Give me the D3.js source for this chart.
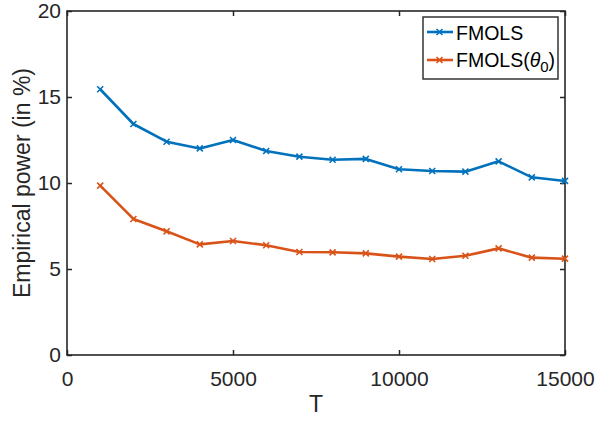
<!DOCTYPE html>
<html>
<head>
<meta charset="utf-8">
<script src="https://cdn.jsdelivr.net/npm/d3@7"></script>
<style>
  body { margin: 0; background: #fff; }
  svg { display: block; font-family: "Liberation Sans", Arial, Helvetica, sans-serif; }
</style>
</head>
<body>
<svg id="chart" width="597" height="422"></svg>
<script>
const T = [1000, 2000, 3000, 4000, 5000, 6000, 7000, 8000, 9000, 10000, 11000, 12000, 13000, 14000, 15000];
const fmols = [15.45, 13.43, 12.40, 12.01, 12.50, 11.86, 11.53, 11.35, 11.40, 10.80, 10.70, 10.66, 11.26, 10.33, 10.12];
const fmolsTheta = [9.85, 7.91, 7.19, 6.43, 6.63, 6.38, 5.99, 5.97, 5.91, 5.72, 5.58, 5.77, 6.20, 5.66, 5.60];
const xTicks = [0, 5000, 10000, 15000];
const yTicks = [0, 5, 10, 15, 20];

const svg = d3.select("#chart");
const width = 597, height = 422;
const margin = {top: 11, right: 32, bottom: 67, left: 67};
const axisColor = "#262626";

const x = d3.scaleLinear()
    .domain([0, 15000])
    .range([margin.left, width - margin.right]);

const y = d3.scaleLinear()
    .domain([0, 20])
    .range([height - margin.bottom, margin.top]);

const tickFont = "21px";

// bottom axis
const gx = svg.append("g")
    .attr("transform", `translate(0,${height - margin.bottom})`)
    .call(d3.axisBottom(x).tickValues(xTicks).tickFormat(d3.format("d"))
        .tickSizeInner(-5).tickSizeOuter(0).tickPadding(16));

// left axis
const gy = svg.append("g")
    .attr("transform", `translate(${margin.left},0)`)
    .call(d3.axisLeft(y).tickValues(yTicks).tickSizeInner(-5).tickSizeOuter(0).tickPadding(6));

// top and right ticks (box on)
const gt = svg.append("g")
    .attr("transform", `translate(0,${margin.top})`)
    .call(d3.axisTop(x).tickValues(xTicks).tickFormat("").tickSizeInner(-5).tickSizeOuter(0));
const gr = svg.append("g")
    .attr("transform", `translate(${width - margin.right},0)`)
    .call(d3.axisRight(y).tickValues(yTicks).tickFormat("").tickSizeInner(-5).tickSizeOuter(0));

[gx, gy, gt, gr].forEach(g => {
    g.select(".domain").remove();
    g.selectAll(".tick line").attr("stroke", axisColor).attr("stroke-width", 1.5);
    g.selectAll(".tick text").attr("fill", axisColor).style("font-size", tickFont)
        .style("font-family", "'Liberation Sans', Arial, Helvetica, sans-serif");
});

svg.append("rect")
    .attr("x", margin.left)
    .attr("y", margin.top)
    .attr("width", width - margin.left - margin.right)
    .attr("height", height - margin.top - margin.bottom)
    .attr("fill", "none")
    .attr("stroke", axisColor)
    .attr("stroke-width", 1.6);

// axis labels
svg.append("text")
    .attr("x", (margin.left + width - margin.right) / 2)
    .attr("y", 412)
    .attr("text-anchor", "middle")
    .attr("fill", axisColor)
    .style("font-size", "23px")
    .text("T");

svg.append("text")
    .attr("transform", `translate(30,${(margin.top + height - margin.bottom) / 2}) rotate(-90)`)
    .attr("text-anchor", "middle")
    .attr("fill", axisColor)
    .style("font-size", "23px")
    .text("Empirical power (in %)");

// series
const series = [
    {name: "FMOLS", values: fmols, color: "#0072BD"},
    {name: "FMOLSθ", values: fmolsTheta, color: "#D95319"}
];

const line = d3.line()
    .x(d => x(d[0]))
    .y(d => y(d[1]));

const xMark = "M-3,-3L3,3M-3,3L3,-3";

series.forEach(s => {
    const pts = T.map((t, i) => [t, s.values[i]]);
    svg.append("path")
        .datum(pts)
        .attr("fill", "none")
        .attr("stroke", s.color)
        .attr("stroke-width", 2.6)
        .attr("stroke-linejoin", "round")
        .attr("d", line);
    svg.append("g").selectAll("path")
        .data(pts)
        .join("path")
        .attr("transform", d => `translate(${x(d[0])},${y(d[1])})`)
        .attr("d", xMark)
        .attr("stroke", s.color)
        .attr("stroke-width", 1.6);
});

// legend
const legend = svg.append("g");
legend.append("rect")
    .attr("x", 423)
    .attr("y", 17)
    .attr("width", 135)
    .attr("height", 62)
    .attr("fill", "#fff")
    .attr("stroke", axisColor)
    .attr("stroke-width", 1.4);

const rows = [32, 60];
series.forEach((s, i) => {
    legend.append("line")
        .attr("x1", 427).attr("x2", 453)
        .attr("y1", rows[i]).attr("y2", rows[i])
        .attr("stroke", s.color)
        .attr("stroke-width", 2.6);
    legend.append("path")
        .attr("transform", `translate(439.5,${rows[i]})`)
        .attr("d", xMark)
        .attr("stroke", s.color)
        .attr("stroke-width", 1.6);
});

legend.append("text")
    .attr("x", 456)
    .attr("y", 39.5)
    .attr("fill", "#000")
    .style("font-size", "19.5px")
    .text("FMOLS");

const t2 = legend.append("text")
    .attr("x", 456)
    .attr("y", 67)
    .attr("fill", "#000")
    .style("font-size", "19.5px");
t2.append("tspan").text("FMOLS(");
t2.append("tspan").style("font-style", "italic").text("θ");
t2.append("tspan").attr("dy", 5).style("font-size", "15px").text("0");
t2.append("tspan").attr("dy", -5).text(")");
</script>
</body>
</html>
